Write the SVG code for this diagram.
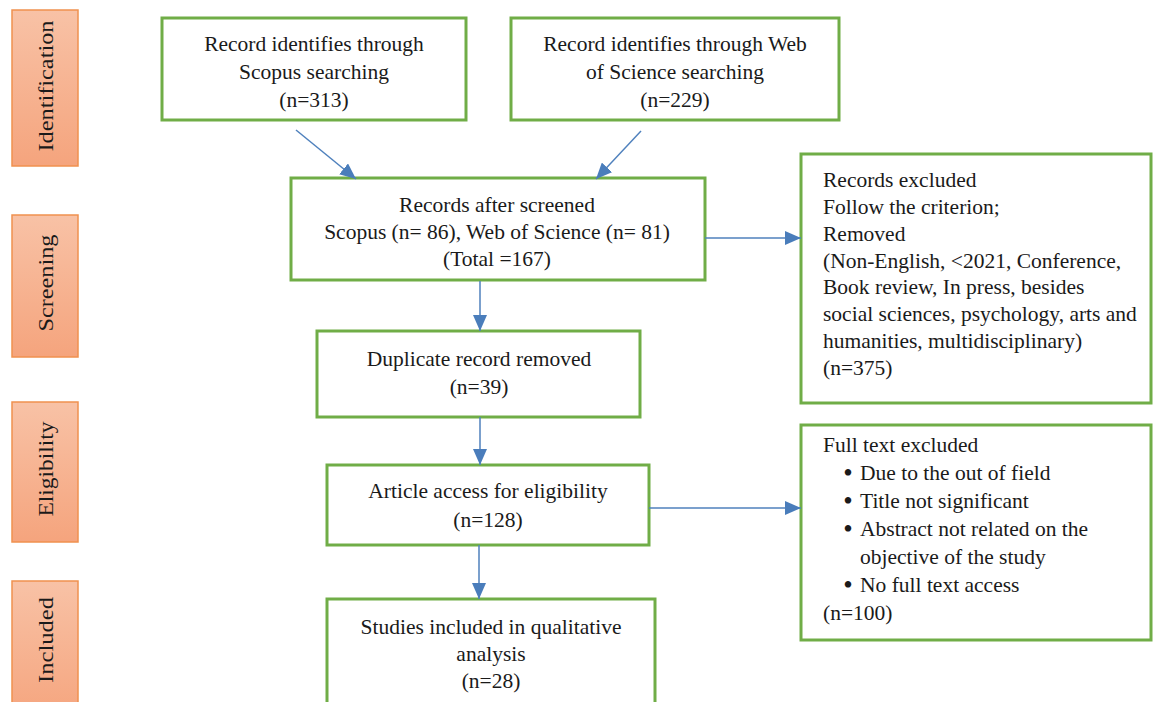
<svg xmlns="http://www.w3.org/2000/svg" width="1153" height="702" viewBox="0 0 1153 702">
<style>
.stage rect{fill:url(#sg);stroke:#f0914f;stroke-width:1.5}
.stage text{font-family:"Liberation Serif",serif;font-size:22px;fill:#1a1a1a;text-anchor:middle}
.box rect{fill:#fff;stroke:#70ad47;stroke-width:3}
.box text{font-family:"Liberation Serif",serif;font-size:21.5px;fill:#1a1a1a}
.box text.b{font-size:27px;text-anchor:middle}
.c text{text-anchor:middle}
.conn line{stroke:#4f81bd;stroke-width:1.5;marker-end:url(#ah)}
</style>
<defs>
<linearGradient id="sg" x1="0" y1="0" x2="0" y2="1">
<stop offset="0" stop-color="#f8c2a6"/>
<stop offset="1" stop-color="#f5a47d"/>
</linearGradient>
<marker id="ah" markerUnits="userSpaceOnUse" markerWidth="16" markerHeight="14" refX="16" refY="7" orient="auto">
<path d="M0,0 L16,7 L0,14 Z" fill="#4a7dbb"/>
</marker>
</defs>
<rect width="1153" height="702" fill="#fff"/>

<g id="stage-identification" class="stage">
<rect x="12" y="10" width="66" height="156"/>
<text transform="translate(53,86) rotate(-90)" textLength="131" lengthAdjust="spacingAndGlyphs">Identification</text>
</g>
<g id="stage-screening" class="stage">
<rect x="12" y="215" width="66" height="142"/>
<text transform="translate(53,283) rotate(-90)" textLength="97" lengthAdjust="spacingAndGlyphs">Screening</text>
</g>
<g id="stage-eligibility" class="stage">
<rect x="12" y="402" width="66" height="140"/>
<text transform="translate(53,469) rotate(-90)" textLength="95" lengthAdjust="spacingAndGlyphs">Eligibility</text>
</g>
<g id="stage-included" class="stage">
<rect x="12" y="581" width="66" height="140"/>
<text transform="translate(53,640) rotate(-90)" textLength="86" lengthAdjust="spacingAndGlyphs">Included</text>
</g>

<g id="scopus" class="box c">
<rect x="162" y="18" width="304" height="102"/>
<text x="314" y="51">Record identifies through</text>
<text x="314" y="79">Scopus searching</text>
<text x="314" y="107">(n=313)</text>
</g>
<g id="wos" class="box c">
<rect x="511" y="18" width="328" height="102"/>
<text x="675" y="51">Record identifies through Web</text>
<text x="675" y="79">of Science searching</text>
<text x="675" y="107">(n=229)</text>
</g>
<g id="screened" class="box c">
<rect x="291" y="178" width="414" height="102"/>
<text x="497" y="212">Records after screened</text>
<text x="497" y="239">Scopus (n= 86), Web of Science (n= 81)</text>
<text x="497" y="266">(Total =167)</text>
</g>
<g id="excluded" class="box">
<rect x="801" y="154" width="350" height="249"/>
<text x="823" y="187">Records excluded</text>
<text x="823" y="214">Follow the criterion;</text>
<text x="823" y="241">Removed</text>
<text x="823" y="268">(Non-English, &lt;2021, Conference,</text>
<text x="823" y="294">Book review, In press, besides</text>
<text x="823" y="321">social sciences, psychology, arts and</text>
<text x="823" y="348">humanities, multidisciplinary)</text>
<text x="823" y="375">(n=375)</text>
</g>
<g id="duplicate" class="box c">
<rect x="317" y="331" width="323" height="86"/>
<text x="479" y="366">Duplicate record removed</text>
<text x="479" y="394">(n=39)</text>
</g>
<g id="article" class="box c">
<rect x="327" y="465" width="322" height="80"/>
<text x="488" y="498">Article access for eligibility</text>
<text x="488" y="527">(n=128)</text>
</g>
<g id="fulltext" class="box">
<rect x="801" y="425" width="350" height="215"/>
<text x="823" y="452">Full text excluded</text>
<text class="b" x="848" y="482">•</text><text x="860" y="480">Due to the out of field</text>
<text class="b" x="848" y="510">•</text><text x="860" y="508">Title not significant</text>
<text class="b" x="848" y="538">•</text><text x="860" y="536">Abstract not related on the</text>
<text x="860" y="564">objective of the study</text>
<text class="b" x="848" y="594">•</text><text x="860" y="592">No full text access</text>
<text x="823" y="620">(n=100)</text>
</g>
<g id="included" class="box c">
<rect x="327" y="599" width="328" height="130"/>
<text x="491" y="634">Studies included in qualitative</text>
<text x="491" y="661">analysis</text>
<text x="491" y="688">(n=28)</text>
</g>

<g id="connectors" class="conn">
<line x1="296" y1="130" x2="356" y2="179"/>
<line x1="641" y1="131" x2="596" y2="179"/>
<line x1="705" y1="238" x2="801" y2="238"/>
<line x1="480" y1="281" x2="480" y2="331"/>
<line x1="480" y1="417" x2="480" y2="465"/>
<line x1="649" y1="508" x2="801" y2="508"/>
<line x1="479" y1="545" x2="479" y2="599"/>
</g>
</svg>
